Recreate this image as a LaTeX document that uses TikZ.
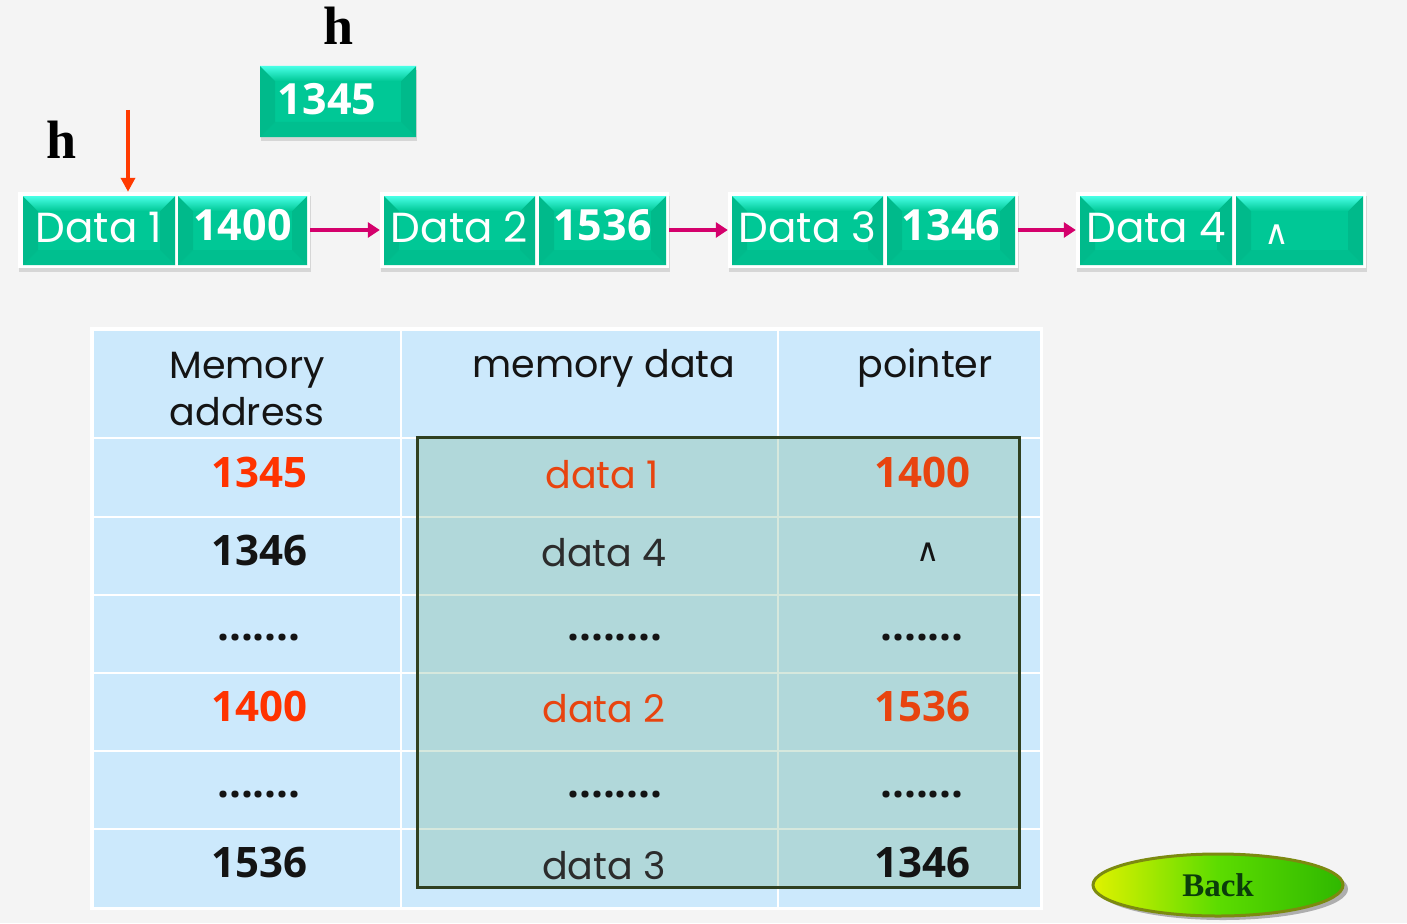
\documentclass[tikz,border=0pt]{standalone}
\usepackage{fontspec}
\setmainfont{Poppins}
\newfontfamily\numfont{Open Sans}
\newfontfamily\serifb{Liberation Serif}
\newfontfamily\djv{DejaVu Sans}
\usetikzlibrary{arrows.meta,shadows,shapes.geometric}
\definecolor{bgc}{HTML}{F4F4F4}
\definecolor{tealA}{HTML}{00C896}
\definecolor{tealB}{HTML}{00BA8B}
\definecolor{tealC}{HTML}{00BF8F}
\definecolor{bevtop}{HTML}{48FFE6}
\definecolor{linkc}{HTML}{D4006C}
\definecolor{hred}{HTML}{FF3A00}
\definecolor{addrred}{HTML}{FF3300}
\definecolor{datared}{HTML}{E8440F}
\definecolor{tblue}{HTML}{CCE9FC}
\definecolor{ovl}{HTML}{64A87C}
\definecolor{ovlborder}{HTML}{2F4020}
\definecolor{txtk}{HTML}{141414}
\definecolor{btnA}{HTML}{E0F200}
\definecolor{btnB}{HTML}{5CDC00}
\definecolor{btnC}{HTML}{2FB800}
\definecolor{btnrim}{HTML}{7C8A10}
\definecolor{btntext}{HTML}{0B3D0B}
\newcommand{\onbase}[2]{\raisebox{#1}[0pt][0pt]{#2}}
\begin{document}
\begin{tikzpicture}[x=1pt,y=-1pt,
  frame/.style={rectangle, inner sep=0pt, fill=white, minimum height=76pt,
    drop shadow={shadow xshift=1pt, shadow yshift=-4pt, opacity=0.25}},
  cell/.style={rectangle, inner sep=0pt, minimum height=69pt, fill=tealA, text=white,
    path picture={
      \coordinate (pnw) at (path picture bounding box.north west);
      \coordinate (pne) at (path picture bounding box.north east);
      \coordinate (psw) at (path picture bounding box.south west);
      \coordinate (pse) at (path picture bounding box.south east);
      \fill[tealC] (psw) -- (pse) -- ([shift={(-15pt,15pt)}]pse) -- ([shift={(15pt,15pt)}]psw) -- cycle;
      \fill[tealB] (pnw) -- ([shift={(15pt,-15pt)}]pnw) -- ([shift={(15pt,15pt)}]psw) -- (psw) -- cycle;
      \fill[tealB] (pne) -- ([shift={(-15pt,-15pt)}]pne) -- ([shift={(-15pt,15pt)}]pse) -- (pse) -- cycle;
      \shade[top color=bevtop, bottom color=tealA] (pnw) -- (pne) -- ([shift={(-15pt,-15pt)}]pne) -- ([shift={(15pt,-15pt)}]pnw) -- cycle;
    }},
  dcell/.style={cell, font=\fontsize{42}{48}\selectfont},
  ncell/.style={cell, font=\numfont\bfseries\fontsize{43}{48}\selectfont},
  link/.style={draw=linkc, line width=4pt, -{Triangle[length=12pt,width=15pt]}},
  harrow/.style={draw=hred, line width=3.5pt, -{Triangle[length=14pt,width=14pt]}},
  hlab/.style={font=\serifb\bfseries\fontsize{54}{60}\selectfont, text=black, inner sep=0pt, anchor=base},
  hd/.style={font=\fontsize{38}{44}\selectfont, text=txtk, inner sep=0pt, anchor=base},
  tn/.style={font=\numfont\bfseries\fontsize{42}{46}\selectfont, text=txtk, inner sep=0pt, anchor=base},
  td/.style={font=\fontsize{38}{44}\selectfont, text=txtk!90!white, inner sep=0pt, anchor=base},
  gridw/.style={draw=white, line width=2.5pt},
]
% background
\fill[bgc] (0,0) rectangle (1407,923);

% h labels and top box
\node[hlab] (htop) at (339,45) {h};
\node[hlab] (hleft) at (62,158) {h};
\node[ncell, minimum width=156pt, minimum height=71pt,
  drop shadow={shadow xshift=1pt, shadow yshift=-4pt, opacity=0.25}] (top) at (338,101.5) {\onbase{-13.5pt}{1345}\kern22pt};

% linked list frames
\node[frame, minimum width=292pt] (f1) at (164,230) {};
\node[frame, minimum width=289pt] (f2) at (524.5,230) {};
\node[frame, minimum width=290pt] (f3) at (873,230) {};
\node[frame, minimum width=290pt] (f4) at (1221,230) {};
% cells
\node[dcell, minimum width=152pt] (c1a) at (99,230.5) {\onbase{-11.5pt}{Data 1}};
\node[ncell, minimum width=129pt] (c1b) at (242.5,230.5) {\onbase{-10pt}{1400}};
\node[dcell, minimum width=151pt] (c2a) at (459.5,230.5) {\onbase{-11.5pt}{Data 2}};
\node[ncell, minimum width=127pt] (c2b) at (602.5,230.5) {\onbase{-10pt}{1536}};
\node[dcell, minimum width=151pt] (c3a) at (807.5,230.5) {\onbase{-11.5pt}{Data 3}};
\node[ncell, minimum width=128pt] (c3b) at (951,230.5) {\onbase{-10pt}{1346}};
\node[dcell, minimum width=152pt] (c4a) at (1156,230.5) {\onbase{-11.5pt}{Data 4}};
\node[cell, minimum width=127pt, font=\djv\fontsize{34}{38}\selectfont] (c4b) at (1299.5,230.5) {\onbase{-13.5pt}{∧}\kern45pt};

% arrows
\coordinate (hs) at (128,110);
\draw[harrow] (hs) -- (hs |- f1.north);
\draw[link] (f1.east) -- (f2.west);
\draw[link] (f2.east) -- (f3.west);
\draw[link] (f3.east) -- (f4.west);

% table
\fill[white] (90,327) rectangle (1043,910);
\fill[tblue] (94,331) rectangle (1040,907);
\foreach \yy in {438,517,595,673,751,829} \draw[gridw] (94,\yy) -- (1040,\yy);
\draw[gridw] (401,331) -- (401,907);
\draw[gridw] (778,331) -- (778,907);
\fill[ovl, opacity=0.26] (417,437) rectangle (1019,887);
\draw[ovlborder, line width=3pt] (417,437) rectangle (1019,887);

% header
\node[hd] (hm1) at (247,378) {Memory};
\node[hd] (hm2) at (247,425) {address};
\node[hd] (hmd) at (604,377) {memory data};
\node[hd] (hp) at (925,377) {pointer};

% rows
\node[tn, text=addrred] (a1) at (259,487) {1345};
\node[td, text=datared] (d1) at (602,488) {data 1};
\node[tn, text=datared] (p1) at (922,487) {1400};

\node[tn] (a2) at (259,565) {1346};
\node[td] (d2) at (604,566) {data 4};
\node[font=\djv\fontsize{32}{36}\selectfont, text=txtk, inner sep=0pt] (p2) at (928,552) {∧};

\node[tn] (a3) at (259,640) {.......};
\node[tn] (d3) at (615,640) {........};
\node[tn] (p3) at (922,640) {.......};

\node[tn, text=addrred] (a4) at (259,721) {1400};
\node[td, text=datared] (d4) at (604,722) {data 2};
\node[tn, text=datared] (p4) at (922,721) {1536};

\node[tn] (a5) at (259,797) {.......};
\node[tn] (d5) at (615,797) {........};
\node[tn] (p5) at (922,797) {.......};

\node[tn] (a6) at (259,877) {1536};
\node[td] (d6) at (604,879) {data 3};
\node[tn] (p6) at (922,877) {1346};

% back button
\node[ellipse, minimum width=250pt, minimum height=62pt, inner sep=0pt,
  left color=btnA, right color=btnC, middle color=btnB,
  draw=btnrim, line width=3pt,
  drop shadow={shadow xshift=5pt, shadow yshift=-4pt, opacity=0.6},
  font=\serifb\bfseries\fontsize{33}{36}\selectfont, text=btntext] (back) at (1218,885) {Back};
\end{tikzpicture}
\end{document}
